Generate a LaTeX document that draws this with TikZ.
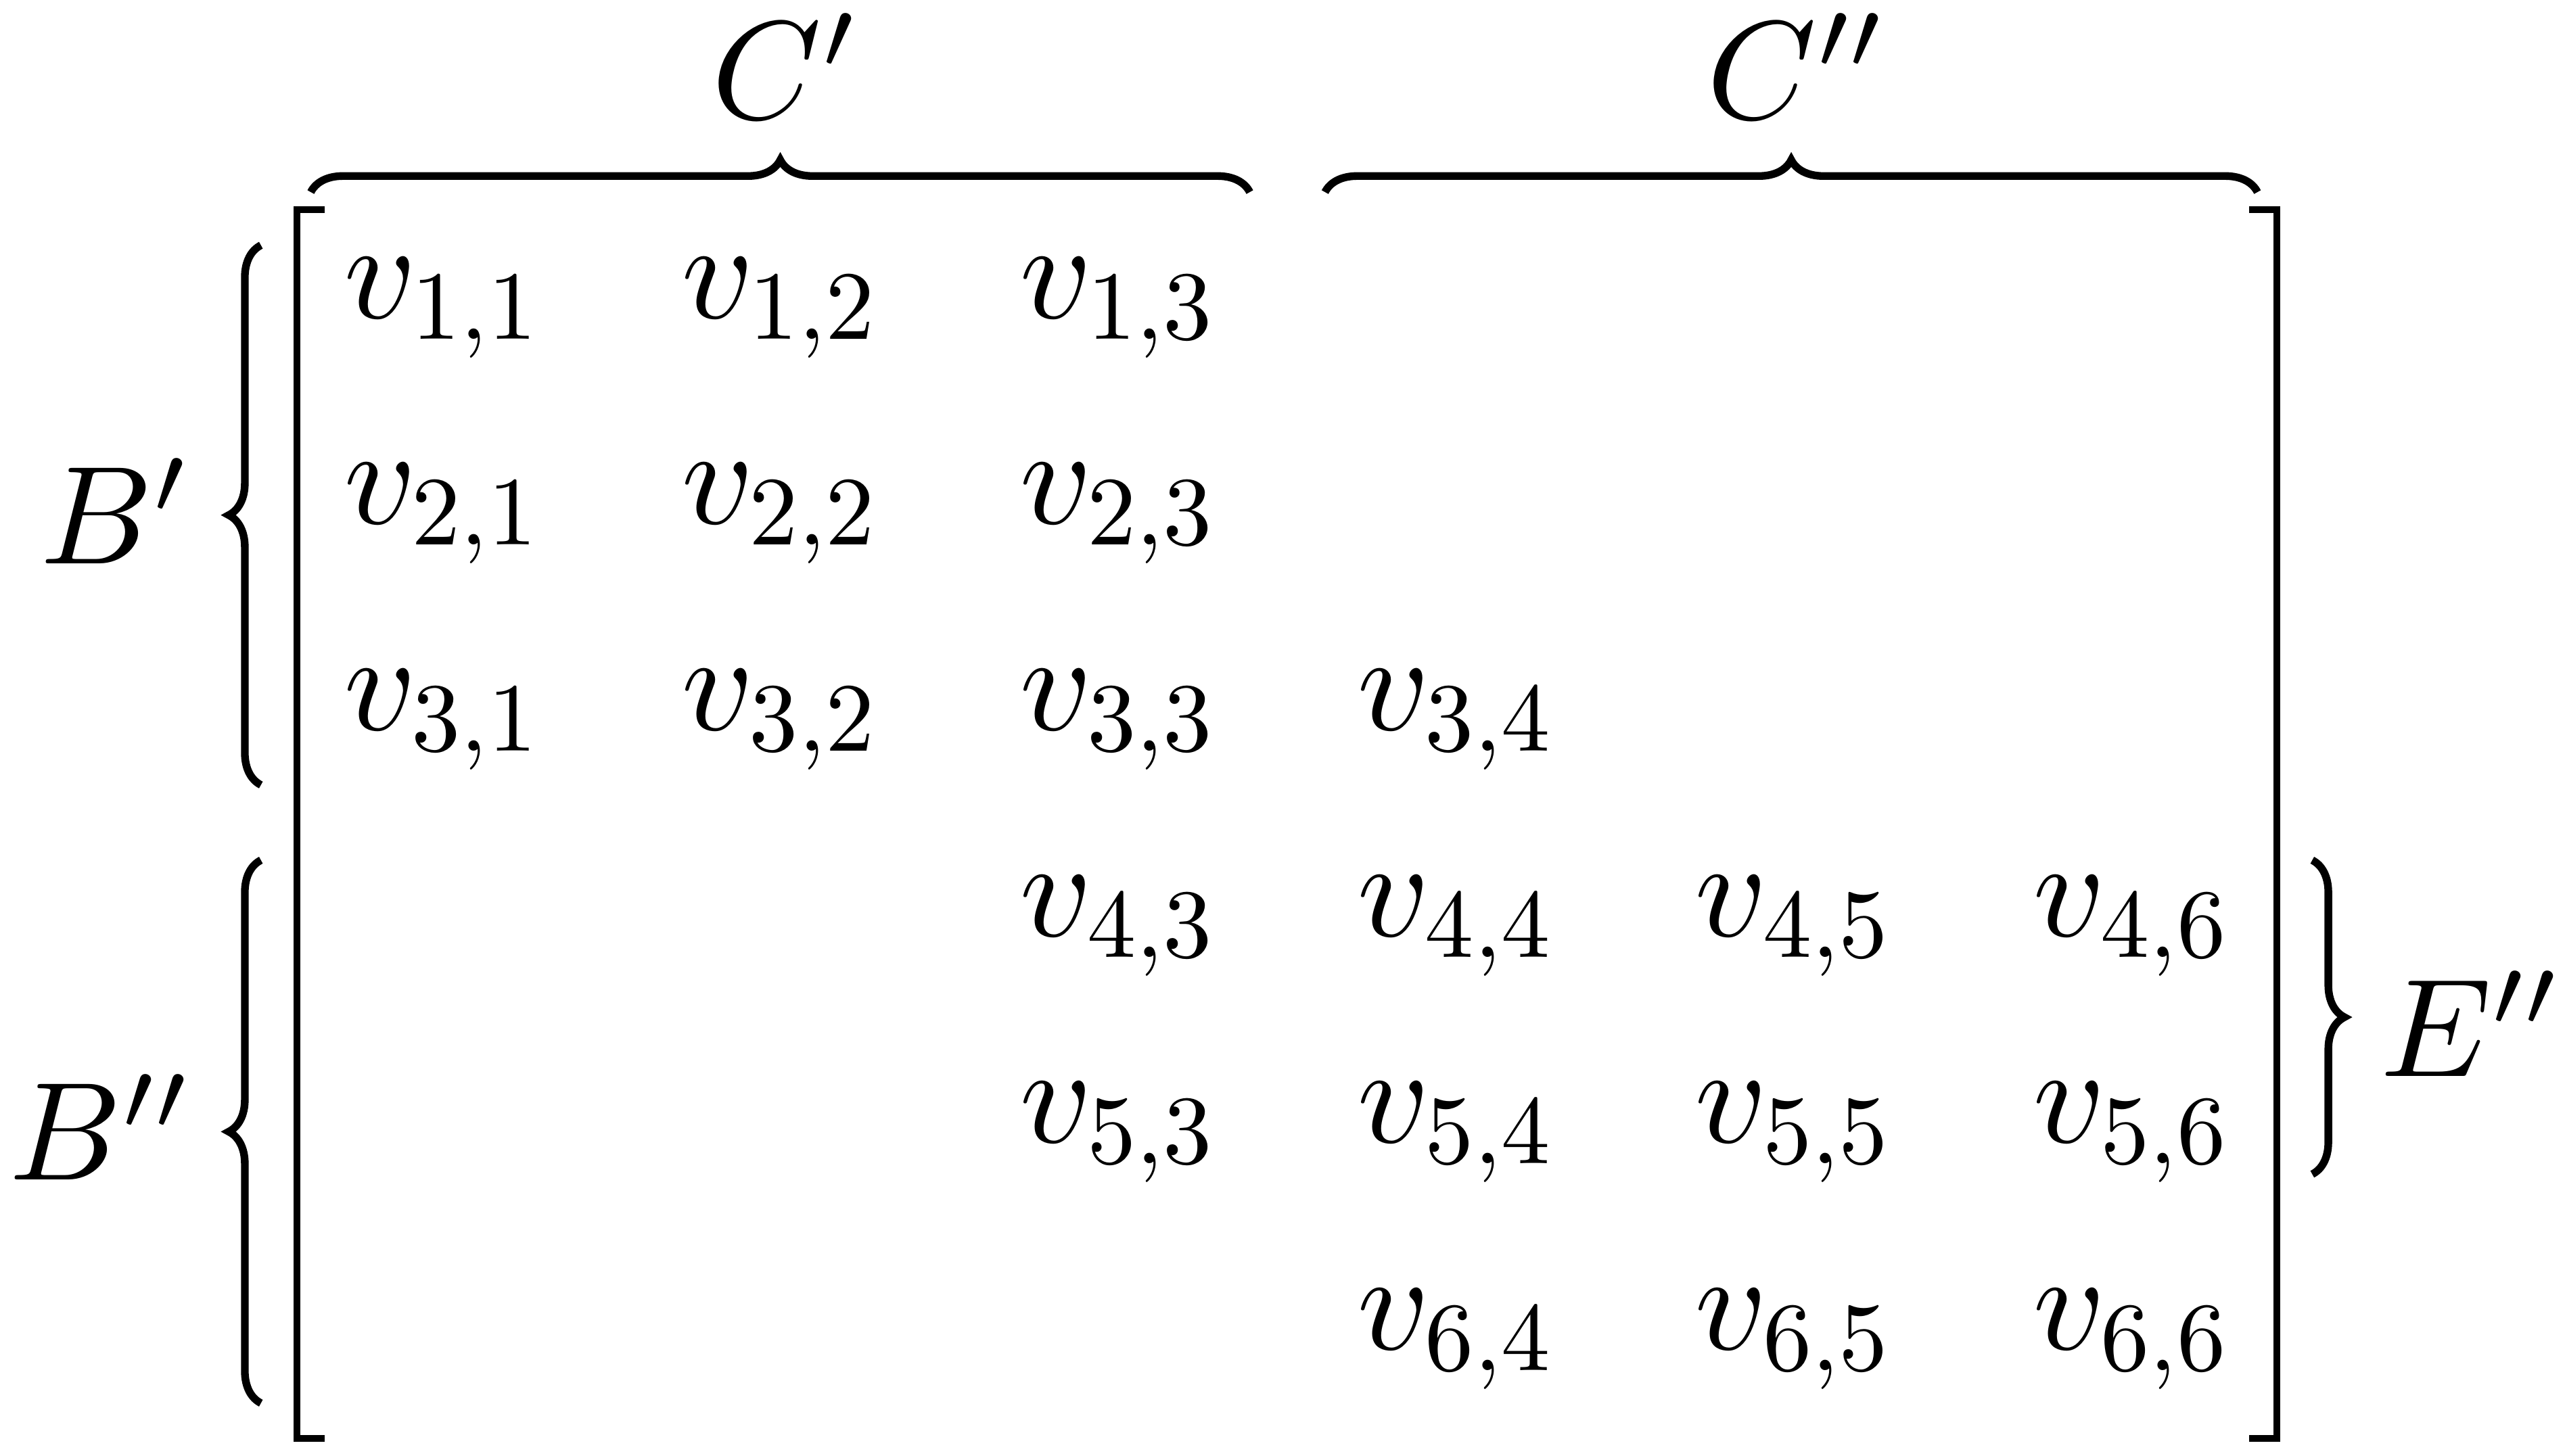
\documentclass[tikz,border=0pt]{standalone}
\usepackage{graphicx}
\usetikzlibrary{decorations.pathreplacing}
\newcommand{\vent}[2]{v_{\scalebox{0.7}{$#1{,}#2$}}}
\begin{document}
\begin{tikzpicture}[x=0.117pt,y=-0.117pt,
  entry/.style={anchor=base west,inner sep=0pt},
  lbl/.style={anchor=base,inner sep=0pt},
  brk/.style={line width=0.48pt},
  brc/.style={decorate,decoration={brace,amplitude=2.3pt},line width=0.55pt}]
\useasboundingbox (0,0) rectangle (1568,890);
% entries
\node[entry] (v11) at (208.5,194.4) {$\vent11$};
\node[entry] (v12) at (415,194.4) {$\vent12$};
\node[entry] (v13) at (621.5,194.4) {$\vent13$};
\node[entry] (v21) at (208.5,320.5) {$\vent21$};
\node[entry] (v22) at (415,320.5) {$\vent22$};
\node[entry] (v23) at (621.5,320.5) {$\vent23$};
\node[entry] (v31) at (208.5,446.6) {$\vent31$};
\node[entry] (v32) at (415,446.6) {$\vent32$};
\node[entry] (v33) at (621.5,446.6) {$\vent33$};
\node[entry] (v34) at (828,446.6) {$\vent34$};
\node[entry] (v43) at (621.5,572.7) {$\vent43$};
\node[entry] (v44) at (828,572.7) {$\vent44$};
\node[entry] (v45) at (1034.5,572.7) {$\vent45$};
\node[entry] (v46) at (1241,572.7) {$\vent46$};
\node[entry] (v53) at (621.5,698.8) {$\vent53$};
\node[entry] (v54) at (828,698.8) {$\vent54$};
\node[entry] (v55) at (1034.5,698.8) {$\vent55$};
\node[entry] (v56) at (1241,698.8) {$\vent56$};
\node[entry] (v64) at (828,825) {$\vent64$};
\node[entry] (v65) at (1034.5,825) {$\vent65$};
\node[entry] (v66) at (1241,825) {$\vent66$};
% brackets
\coordinate (LT) at (198.5,128.4);
\coordinate (LB) at (198.5,879.7);
\coordinate (RT) at (1375,128.4);
\coordinate (RB) at (1375,879.7);
\draw[brk] (LT) -| (181.6,879.7) -- (LB);
\draw[brk] (RT) -| (1391.7,879.7) -- (RB);
% horizontal braces
\coordinate (c1a) at (190,117.5);
\coordinate (c1b) at (764,117.5);
\coordinate (c2a) at (810,117.5);
\coordinate (c2b) at (1380,117.5);
\draw[brc] (c1a) -- (c1b);
\draw[brc] (c2a) -- (c2b);
\node[lbl] (C1) at (481,72.5) {$C'$};
\node[lbl] (C2) at (1099,72.5) {$C''$};
% vertical braces
\coordinate (b1a) at (159.5,480);
\coordinate (b1b) at (159.5,150);
\coordinate (b2a) at (159.5,858);
\coordinate (b2b) at (159.5,526);
\coordinate (e2a) at (1413.5,526);
\coordinate (e2b) at (1413.5,718);
\draw[brc] (b1a) -- (b1b);
\draw[brc] (b2a) -- (b2b);
\draw[brc] (e2a) -- (e2b);
\node[lbl] (B1) at (71,344.6) {$B'$};
\node[lbl] (B2) at (62,721.6) {$B''$};
\node[lbl] (E2) at (1511,658) {$E''$};
\end{tikzpicture}
\end{document}
